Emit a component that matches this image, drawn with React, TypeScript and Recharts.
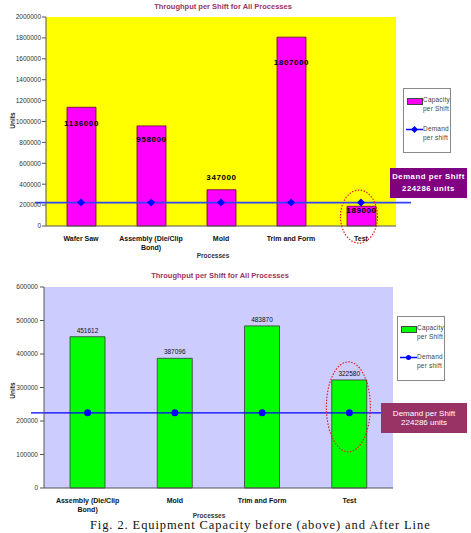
import * as React from 'react';
import { ComposedChart, Bar, Line, XAxis, YAxis, CartesianGrid, ReferenceLine, ReferenceDot, LabelList } from 'recharts';

const categoriesBefore = ['Wafer Saw', 'Assembly (Die/Clip Bond)', 'Mold', 'Trim and Form', 'Test'];
const capacityBefore = [1136000, 958000, 347000, 1807000, 189000];
const demandBefore = [224286, 224286, 224286, 224286, 224286];
const yTicksBefore = [0, 200000, 400000, 600000, 800000, 1000000, 1200000, 1400000, 1600000, 1800000, 2000000];

const categoriesAfter = ['Assembly (Die/Clip Bond)', 'Mold', 'Trim and Form', 'Test'];
const capacityAfter = [451612, 387096, 483870, 322580];
const demandAfter = [224286, 224286, 224286, 224286];
const yTicksAfter = [0, 100000, 200000, 300000, 400000, 500000, 600000];

const demandPerShift = 224286;

const beforeData = categoriesBefore.map((name, i) => ({ name, capacity: capacityBefore[i], demand: demandBefore[i] }));
const afterData = categoriesAfter.map((name, i) => ({ name, capacity: capacityAfter[i], demand: demandAfter[i] }));

// label nudges for the top chart (excel put them all over the place)
const beforeLabelDy = [19, 16, -10, 28, 7];

const FONT = '"Liberation Sans", Arial, sans-serif';

function wrap(text: string, max = 18) {
  const words = text.split(' ');
  const lines: string[] = [];
  let cur = '';
  words.forEach((w) => {
    if (cur && (cur + ' ' + w).length > max) {
      lines.push(cur);
      cur = w;
    } else {
      cur = cur ? cur + ' ' + w : w;
    }
  });
  if (cur) lines.push(cur);
  return lines;
}

const CatTick = (props: any) => {
  const { x, y, payload } = props;
  const lines = wrap(String(payload.value));
  return (
    <text x={x} y={y} textAnchor="middle" fontFamily={FONT} fontSize={7} fontWeight="bold" fill="#111">
      {lines.map((l, i) => (
        <tspan key={i} x={x} dy={i === 0 ? 7 : 9}>{l}</tspan>
      ))}
    </text>
  );
};

const Diamond = (props: any) => {
  const { cx, cy } = props;
  if (cx == null || cy == null) return null;
  return <polygon points={`${cx},${cy - 4} ${cx + 4},${cy} ${cx},${cy + 4} ${cx - 4},${cy}`} fill="#0000ff" />;
};

const Circle = (props: any) => {
  const { cx, cy } = props;
  if (cx == null || cy == null) return null;
  return <circle cx={cx} cy={cy} r={3.5} fill="#0000ff" />;
};

const extendedLine = (left: number, right: number, color: string, width: number) => (props: any) => (
  <line x1={props.x1 - left} y1={props.y1} x2={props.x2 + right} y2={props.y2} stroke={color} strokeWidth={width} />
);

const ellipse = (rx: number, ry: number, dx: number, dy: number) => (props: any) => (
  <ellipse cx={props.cx + dx} cy={props.cy + dy} rx={rx} ry={ry} fill="none" stroke="#e02020" strokeWidth={1.2} strokeDasharray="1.5 1.5" />
);

const beforeLabel = (props: any) => {
  const { x, y, width, value, index } = props;
  return (
    <text x={x + width / 2} y={y + beforeLabelDy[index]} textAnchor="middle" fontFamily={FONT} fontSize={8} fontWeight="bold" letterSpacing={0.6} fill="#000">
      {value}
    </text>
  );
};

const afterLabel = (props: any) => {
  const { x, y, width, value } = props;
  return (
    <text x={x + width / 2} y={y - 4} textAnchor="middle" fontFamily={FONT} fontSize={6.5} fill="#111">
      {value}
    </text>
  );
};

const abs = (s: React.CSSProperties): React.CSSProperties => ({ position: 'absolute', fontFamily: FONT, ...s });

function LegendBox({ left, top, swatch, marker }: { left: number; top: number; swatch: string; marker: 'diamond' | 'circle' }) {
  return (
    <div style={abs({ left, top, width: 48, height: 65, background: '#fff', border: '1px solid #888', boxSizing: 'border-box', fontSize: 6.5, color: '#444', lineHeight: '8.5px', letterSpacing: 0.2 })}>
      <div style={abs({ left: 3, top: 9, width: 14, height: 5, background: swatch, border: '0.5px solid #444' })} />
      <div style={abs({ left: 19, top: 7 })}>Capacity<br />per Shift</div>
      <svg style={{ position: 'absolute', left: 2, top: 36 }} width={17} height={9}>
        <line x1={0} y1={4.5} x2={17} y2={4.5} stroke="#0000ff" strokeWidth={1.5} />
        {marker === 'diamond' ? <polygon points="8.5,1 12,4.5 8.5,8 5,4.5" fill="#0000ff" /> : <circle cx={8.5} cy={4.5} r={2.5} fill="#0000ff" />}
      </svg>
      <div style={abs({ left: 19, top: 36 })}>Demand<br />per shift</div>
    </div>
  );
}

export default function App() {
  return (
    <div style={{ position: 'absolute', left: 0, top: 0, width: 471, height: 533, background: '#fff', overflow: 'hidden' }}>
      {/* before */}
      <div style={abs({ left: 0, top: 2, width: 446, textAlign: 'center', fontSize: 7.5, fontWeight: 'bold', color: '#993366' })}>
        Throughput per Shift for All Processes
      </div>
      <div style={abs({ left: 0, top: 0 })}>
        <ComposedChart width={471} height={262} data={beforeData} margin={{ top: 17, right: 75, left: 0, bottom: 0 }}>
          <CartesianGrid fill="#ffff00" horizontal={false} vertical={false} />
          <XAxis dataKey="name" tick={<CatTick />} tickLine={false} axisLine={{ stroke: '#555' }} height={36} interval={0} />
          <YAxis domain={[0, 2000000]} ticks={yTicksBefore} width={46} tick={{ fontFamily: FONT, fontSize: 6.5, fill: '#333' }} tickSize={4} tickMargin={1} axisLine={{ stroke: '#555' }} tickLine={{ stroke: '#555' }} interval={0} />
          <Bar dataKey="capacity" fill="#ff00ff" stroke="#660033" strokeWidth={0.8} barSize={29} isAnimationActive={false}>
            <LabelList dataKey="capacity" content={beforeLabel} />
          </Bar>
          <ReferenceLine y={demandPerShift} shape={extendedLine(11, 15, '#3344ff', 1.8)} />
          <Line dataKey="demand" stroke="none" dot={<Diamond />} activeDot={false} isAnimationActive={false} />
          <ReferenceDot x="Test" y={demandPerShift} shape={ellipse(18.5, 26.5, -2, 14)} />
        </ComposedChart>
      </div>
      <div style={abs({ left: 4, top: 117, transform: 'rotate(-90deg)', fontSize: 6.5, fontWeight: 'bold', color: '#222' })}>Units</div>
      <div style={abs({ left: 0, top: 252, width: 426, textAlign: 'center', fontSize: 6.5, fontWeight: 'bold', color: '#333' })}>Processes</div>
      <LegendBox left={403} top={88} swatch="#ff00ff" marker="diamond" />
      <div style={abs({ left: 390, top: 168, width: 77, height: 30, background: '#800080', color: '#fff', fontSize: 7.8, fontWeight: 'bold', letterSpacing: 0.5, textAlign: 'center', lineHeight: '12px', paddingTop: 3, boxSizing: 'border-box' })}>
        Demand per Shift<br />224286 units
      </div>

      {/* after */}
      <div style={abs({ left: 0, top: 271, width: 440, textAlign: 'center', fontSize: 7.5, fontWeight: 'bold', color: '#993366' })}>
        Throughput per Shift for All Processes
      </div>
      <div style={abs({ left: 0, top: 265 })}>
        <ComposedChart width={471} height={257} data={afterData} margin={{ top: 22, right: 78, left: 0, bottom: 0 }}>
          <CartesianGrid fill="#ccccff" horizontal={false} vertical={false} />
          <XAxis dataKey="name" tick={<CatTick />} tickLine={false} axisLine={{ stroke: '#555' }} height={34} interval={0} />
          <YAxis domain={[0, 600000]} ticks={yTicksAfter} width={44} tick={{ fontFamily: FONT, fontSize: 6.5, fill: '#333' }} tickSize={4} tickMargin={2} axisLine={{ stroke: '#555' }} tickLine={{ stroke: '#555' }} interval={0} />
          <Bar dataKey="capacity" fill="#00ff00" stroke="#3a3a3a" strokeWidth={0.8} barSize={35} isAnimationActive={false}>
            <LabelList dataKey="capacity" content={afterLabel} />
          </Bar>
          <ReferenceLine y={demandPerShift} shape={extendedLine(13, 0, '#0000ff', 1.3)} />
          <Line dataKey="demand" stroke="none" dot={<Circle />} activeDot={false} isAnimationActive={false} />
          <ReferenceDot x="Test" y={demandPerShift} shape={ellipse(22, 45, -1, -6)} />
        </ComposedChart>
      </div>
      <div style={abs({ left: 4, top: 387, transform: 'rotate(-90deg)', fontSize: 6.5, fontWeight: 'bold', color: '#222' })}>Units</div>
      <div style={abs({ left: 0, top: 512, width: 418, textAlign: 'center', fontSize: 6.5, fontWeight: 'bold', color: '#333' })}>Processes</div>
      <LegendBox left={397} top={316} swatch="#00ff00" marker="circle" />
      <div style={abs({ left: 381, top: 403, width: 86, height: 30, background: '#993366', color: '#fff', fontSize: 8, textAlign: 'center', lineHeight: '9px', paddingTop: 6, boxSizing: 'border-box' })}>
        Demand per Shift<br />224286 units
      </div>

      <div style={abs({ left: 90, top: 518, fontFamily: '"Liberation Serif", "Times New Roman", serif', fontSize: 12.5, lineHeight: '14px', letterSpacing: 0.9, whiteSpace: 'nowrap', color: '#111' })}>
        Fig. 2. Equipment Capacity before (above) and After Line
      </div>
    </div>
  );
}
